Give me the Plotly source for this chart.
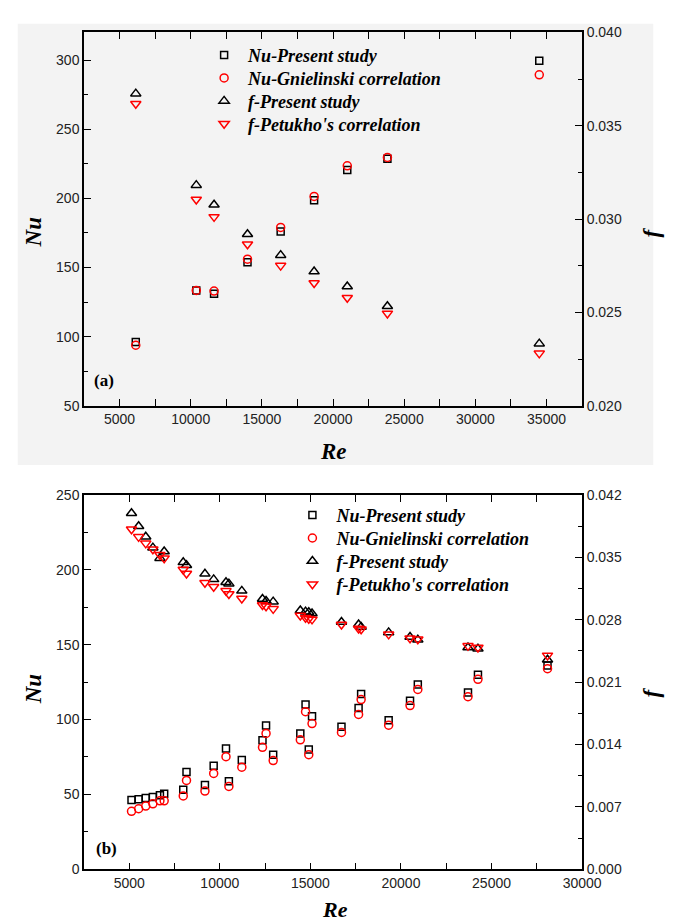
import plotly.graph_objects as go

# ---------------- Panel (a) data ----------------
re_a = [6140, 10390, 11640, 13990, 16320, 18670, 21000, 23820, 34490]
nu_present_a = [96.2, 133.4, 131.0, 153.8, 176.0, 198.6, 220.6, 228.7, 299.5]
nu_gniel_a = [93.8, 133.4, 133.0, 156.0, 179.0, 201.4, 223.5, 229.6, 289.3]
f_present_a = [0.03672, 0.03182, 0.03077, 0.02919, 0.02807, 0.02719, 0.02639, 0.02533, 0.02333]
f_petukhov_a = [0.03618, 0.03105, 0.03012, 0.02865, 0.02751, 0.02658, 0.02579, 0.02495, 0.02281]

# ---------------- Panel (b) data ----------------
re_b = [5124, 5518, 5910, 6303, 6693, 6928, 7980, 8160, 9178, 9660,
        10340, 10500, 11213, 12355, 12552, 12945, 14443, 14732, 14910, 15090,
        16716, 17660, 17800, 19320, 20500, 20930, 23700, 24250, 28090]
nu_present_b = [46.3, 46.8, 47.6, 48.3, 49.4, 50.5, 53.1, 65.0, 56.2, 69.1,
                80.7, 58.8, 73.0, 86.2, 96.0, 76.5, 90.7, 110.0, 80.0, 102.1,
                95.1, 107.6, 117.0, 99.5, 112.6, 123.4, 118.1, 129.9, 136.0]
nu_gniel_b = [38.7, 40.4, 42.2, 43.7, 45.7, 45.7, 49.0, 59.3, 52.2, 64.0,
              75.2, 55.3, 68.2, 81.4, 90.7, 72.6, 86.4, 105.2, 76.5, 97.3,
              91.4, 103.4, 113.3, 96.2, 109.3, 120.1, 115.2, 126.8, 133.9]
f_present_b = [0.03994, 0.03847, 0.03730, 0.03608, 0.03490, 0.03564, 0.03443, 0.03410, 0.03314, 0.03252,
               0.03220, 0.03204, 0.03123, 0.03032, 0.03010, 0.03002, 0.02903, 0.02890, 0.02884, 0.02870,
               0.02774, 0.02745, 0.02719, 0.02657, 0.02605, 0.02576, 0.02487, 0.02473, 0.02351]
f_petukhov_b = [0.03814, 0.03729, 0.03656, 0.03590, 0.03528, 0.03490, 0.03362, 0.03318, 0.03215, 0.03170,
                0.03123, 0.03087, 0.03038, 0.02965, 0.02950, 0.02921, 0.02847, 0.02822, 0.02810, 0.02803,
                0.02745, 0.02701, 0.02693, 0.02635, 0.02591, 0.02580, 0.02506, 0.02487, 0.02399]

names = ["Nu-Present study", "Nu-Gnielinski correlation", "f-Present study", "f-Petukho's correlation"]

W, H = 673, 924
def px(x):
    return x / W
def py(y):
    return 1 - y / H

BLACK = "#000000"
RED = "#ff0000"
TICKFONT = dict(family="Liberation Sans, Arial", size=14, color="#222222")

fig = go.Figure()

def add_panel(re, nu_p, nu_g, f_p, f_g, xa, ya_l, ya_r, legends):
    fig.add_trace(go.Scatter(x=re, y=nu_p, mode="markers", name=names[0], xaxis=xa, yaxis=ya_l,
                             legend=legends[0],
                             marker=dict(symbol="square-open", size=7, color=BLACK, line=dict(width=1.5, color=BLACK))))
    fig.add_trace(go.Scatter(x=re, y=nu_g, mode="markers", name=names[1], xaxis=xa, yaxis=ya_l,
                             legend=legends[1],
                             marker=dict(symbol="circle-open", size=8, color=RED, line=dict(width=1.5, color=RED))))
    fig.add_trace(go.Scatter(x=re, y=f_p, mode="markers", name=names[2], xaxis=xa, yaxis=ya_r,
                             legend=legends[2],
                             marker=dict(symbol="triangle-up-open", size=9, color=BLACK, line=dict(width=1.5, color=BLACK))))
    fig.add_trace(go.Scatter(x=re, y=f_g, mode="markers", name=names[3], xaxis=xa, yaxis=ya_r,
                             legend=legends[3],
                             marker=dict(symbol="triangle-down-open", size=9, color=RED, line=dict(width=1.5, color=RED))))

add_panel(re_a, nu_present_a, nu_gniel_a, f_present_a, f_petukhov_a, "x", "y", "y2",
          ["legend", "legend2", "legend3", "legend4"])
add_panel(re_b, nu_present_b, nu_gniel_b, f_present_b, f_petukhov_b, "x2", "y3", "y4",
          ["legend5", "legend6", "legend7", "legend8"])

xdom = [px(78.3), px(591.7)]
top_dom = [py(396.7), py(16.7)]
bot_dom = [py(868.3), py(487.3)]

def minor(dt, t0):
    return dict(ticks="inside", ticklen=4, tickcolor=BLACK, tickwidth=1.2, dtick=dt, tick0=t0)

def axis_common(**kw):
    d = dict(showline=True, linecolor=BLACK, linewidth=1.5, ticks="inside", ticklen=7, tickwidth=1.3,
             tickcolor=BLACK, showgrid=False, zeroline=False, tickfont=TICKFONT)
    d.update(kw)
    return d

legend_font = dict(family="Liberation Serif, Times New Roman", size=18, color=BLACK, weight="bold", style="italic")

def leg(x, y):
    return dict(x=px(x), y=py(y), xanchor="left", yanchor="middle", bgcolor="rgba(0,0,0,0)",
                font=legend_font, itemwidth=38, borderwidth=0)

top_rows = [40, 63.3, 86.7, 110]
bot_rows = [508, 531.5, 555, 578.5]
legend_layout = {}
for i, yy in enumerate(top_rows):
    key = "legend" if i == 0 else "legend%d" % (i + 1)
    legend_layout[key] = leg(198, yy)
for i, yy in enumerate(bot_rows):
    legend_layout["legend%d" % (i + 5)] = leg(289, yy)

fig.update_layout(
    width=W, height=H,
    margin=dict(l=0, r=0, t=0, b=0),
    paper_bgcolor="white", plot_bgcolor="rgba(0,0,0,0)",
    showlegend=True,
    xaxis=axis_common(domain=xdom, anchor="y", range=[2500, 37500], tick0=5000, dtick=5000,
                      tickformat="d", mirror="allticks", minor=minor(2500, 2500)),
    yaxis=axis_common(domain=top_dom, anchor="x", range=[50, 320], tick0=50, dtick=50, mirror=True,
                      minor=minor(25, 25)),
    yaxis2=axis_common(domain=top_dom, anchor="x", overlaying="y", side="right", range=[0.020, 0.040],
                       tick0=0.020, dtick=0.005, tickformat=".3f", minor=minor(0.0025, 0.0025)),
    xaxis2=axis_common(domain=xdom, anchor="y3", range=[2500, 30000], tick0=5000, dtick=5000,
                       tickformat="d", mirror="allticks", minor=minor(2500, 2500)),
    yaxis3=axis_common(domain=bot_dom, anchor="x2", range=[0, 250], tick0=0, dtick=50, mirror=True,
                       minor=minor(25, 25)),
    yaxis4=axis_common(domain=bot_dom, anchor="x2", overlaying="y3", side="right", range=[0, 0.042],
                       tick0=0, dtick=0.007, tickformat=".3f", minor=minor(0.0035, 0.0035)),
    **legend_layout,
)

# light grey background of panel (a) picture
fig.add_shape(type="rect", xref="paper", yref="paper", x0=px(10), x1=px(665), y0=py(457), y1=py(8),
              fillcolor="#f3f3f3", line=dict(width=0), layer="below")

title_font = dict(family="Liberation Serif, Times New Roman", size=23, color=BLACK)
label_font = dict(family="Liberation Serif, Times New Roman", size=17, color=BLACK)

def ann(text, x, y, font, angle=0):
    fig.add_annotation(text=text, x=px(x), y=py(y), xref="paper", yref="paper", showarrow=False,
                       font=font, textangle=angle, xanchor="center", yanchor="middle")

# panel (a) titles
ann("<b><i>Nu</i></b>", 26, 220, title_font, -90)
ann("<b><i>Re</i></b>", 335, 443, title_font)
ann("<b><i>f</i></b>", 663, 220, title_font, -90)
ann("<b>(a)</b>", 99, 371, label_font)
# panel (b) titles
ann("<b><i>Nu</i></b>", 26, 685, title_font, -90)
ann("<b><i>Re</i></b>", 337, 909, dict(family="Liberation Serif, Times New Roman", size=22, color=BLACK))
ann("<b><i>f</i></b>", 663, 688, title_font, -90)
ann("<b>(b)</b>", 102, 847, label_font)

fig.write_html("out.html")
